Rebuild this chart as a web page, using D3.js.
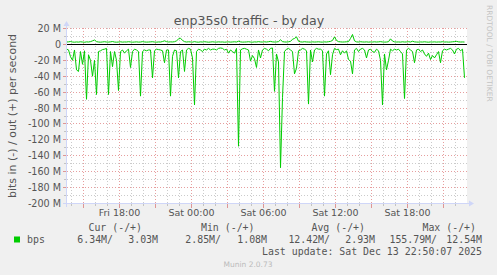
<!DOCTYPE html>
<html>
<head>
<meta charset="utf-8">
<script src="https://cdn.jsdelivr.net/npm/d3@7"></script>
<style>
html,body{margin:0;padding:0;background:#f0f0f0;}
svg{display:block;}
</style>
</head>
<body>
<svg id="chart" width="497" height="275"></svg>
<script>
// ---------------- data ----------------
const title = "enp35s0 traffic - by day";
const yAxisTitle = "bits in (-) / out (+) per second";
const startTime = Date.UTC(2025, 11, 12, 13, 35, 0); // Fri 13:35
const endTime = Date.UTC(2025, 11, 13, 22, 55, 0);
const stepMinutes = 10;

// bits in per second (Mbit/s), drawn below zero
const inMbps = [
  5.8, 6.9, 15.4, 20, 7, 32, 34, 9, 25, 8,
  69, 13, 20, 40, 20, 63, 9, 8, 6.5, 6,
  5, 63, 9, 28, 9, 20, 58, 9, 7, 11,
  8, 6, 29, 9, 6, 7, 9, 65, 9, 7,
  8, 7, 7, 42, 8, 6, 6.5, 7, 8, 23,
  7, 7, 65, 15, 7, 8, 42, 9, 7, 34,
  7, 5, 6, 17, 76, 9, 6, 7, 9, 6,
  7, 5, 7, 6, 6, 7, 5, 4.5, 5, 7,
  6, 11, 7, 9, 11, 5, 128, 7, 5.5, 5,
  6, 7, 21, 14, 18, 29, 7, 17, 7, 5,
  6, 8, 5, 4.5, 59, 12, 22, 155, 67, 9,
  6, 5, 7, 9, 37, 30, 8, 7, 5, 6,
  8, 75, 7, 22, 7, 5, 6, 6, 8, 65,
  12, 8, 38, 13, 5, 6.5, 6, 13, 8, 11,
  8, 19, 21, 37, 7, 5, 9, 6, 5, 7,
  17, 7, 6, 9, 10, 6, 8, 20, 76, 12,
  32, 20, 6, 8, 6, 7, 6, 9, 12, 68,
  7, 5, 7, 9, 23, 7, 6, 9, 7, 12,
  15, 11, 19, 14, 17, 13, 9, 23, 8, 6,
  7, 6, 5, 7, 12, 6, 5, 8, 6, 42
];
// bits out per second (Mbit/s), drawn above zero
const outMbps = [
  3, 3.2, 3.6, 3, 2.8, 3.1, 2.9, 3.3, 3, 2.7,
  3.2, 3, 3.5, 4.5, 5.5, 3.5, 3, 2.8, 3.1, 3.4,
  3, 2.9, 3.2, 3.6, 3, 2.8, 3, 3.3, 2.9, 3.1,
  3, 3.4, 3.1, 2.8, 3, 3.2, 2.9, 3, 3.5, 3.1,
  2.9, 3, 3.2, 3.4, 3, 2.8, 3.1, 3, 3.6, 4.5,
  3.5, 3, 3.2, 3.1, 3.4, 4.5, 6.8, 7.8, 5, 3.5,
  3, 3.3, 3.1, 2.9, 3.5, 3, 2.8, 3.2, 3, 3.4,
  3.1, 2.8, 3, 3.3, 3, 2.9, 3.2, 3, 3.1, 2.8,
  3, 3.2, 2.9, 3.1, 3.3, 3, 4, 3.2, 2.9, 3,
  3.1, 3.4, 3, 2.8, 3.2, 3, 3.5, 3.1, 3, 3.3,
  3, 3.4, 3.8, 3.2, 3, 3.1, 3.5, 5.8, 3.5, 3.1,
  3, 3.3, 3.8, 6.5, 7.5, 9.5, 4, 3.2, 3, 3.4,
  3.1, 3, 2.9, 3.2, 3, 3.1, 3.3, 3, 2.9, 3.2,
  3, 3.4, 3.8, 5, 9.5, 5, 3.5, 3.2, 3, 3.1,
  3.3, 3.5, 7.5, 12.5, 4.5, 3.2, 3, 3.4, 3.1, 3,
  3.2, 2.9, 3.1, 3, 3.3, 3, 3.2, 3.5, 3.1, 2.9,
  3, 3.4, 7, 4.2, 3.2, 3, 3.1, 2.9, 3.3, 3,
  3.1, 3.4, 3, 4, 3.2, 3, 2.9, 3.1, 3, 3.3,
  3, 2.8, 3.1, 3, 3.2, 2.9, 3.1, 3, 3.4, 3,
  3.1, 2.9, 3, 3.3, 3.5, 3.8, 3.2, 3, 3.1, 3
];

const yTicks = [20, 0, -20, -40, -60, -80, -100, -120, -140, -160, -180, -200];
const legendLabel = "bps";
const legendHeaders = ["Cur (-/+)", "Min (-/+)", "Avg (-/+)", "Max (-/+)"];
const legendIn = ["6.34M/", "2.85M/", "12.42M/", "155.79M/"];
const legendOut = ["3.03M", "1.08M", "2.93M", "12.54M"];
const lastUpdate = "Last update: Sat Dec 13 22:50:07 2025";
const footer = "Munin 2.0.73";
const watermark = "RRDTOOL / TOBI OETIKER";

// ---------------- drawing ----------------
(function () {
const svg = d3.select("#chart");
const FONT = "'DejaVu Sans', Verdana, sans-serif";
const MONO = "'DejaVu Sans Mono', monospace";
const TXT = "#555";
const GREEN = "#00cc00";

const pLeft = 66.5, pRight = 466.5, pTop = 28.5, pBottom = 203.5;
const x = d3.scaleUtc().domain([startTime, endTime]).range([pLeft, pRight]);
const y = d3.scaleLinear().domain([-200, 20]).range([pBottom, pTop]);
const crispY = v => Math.round(y(v) - 0.5) + 0.5;

svg.append("rect").attr("width", 497).attr("height", 275).attr("fill", "#f0f0f0");
svg.append("rect").attr("x", 67).attr("y", 28).attr("width", 400).attr("height", 176).attr("fill", "#ffffff");

const grid = svg.append("g");
const minorCol = "rgba(140,140,140,0.45)";
const majorCol = "rgba(200,40,40,0.45)";

// vertical grid
const hours = d3.utcHour.range(new Date(startTime), new Date(endTime));
hours.forEach(h => {
  const major = h.getUTCHours() % 3 === 0;
  const xx = x(h);
  grid.append("line").attr("x1", xx).attr("x2", xx).attr("y1", 28).attr("y2", 204)
    .attr("stroke", major ? majorCol : minorCol).attr("stroke-width", 1)
    .attr("stroke-dasharray", "1,2");
  grid.append("line").attr("x1", xx).attr("x2", xx).attr("y1", 204).attr("y2", major ? 208 : 206)
    .attr("stroke", major ? majorCol : minorCol).attr("stroke-width", 1);
});
// horizontal grid
d3.range(-200, 21, 10).forEach(v => {
  const major = v % 20 === 0;
  const yy = crispY(v);
  grid.append("line").attr("x1", 67).attr("x2", 467).attr("y1", yy).attr("y2", yy)
    .attr("stroke", major ? majorCol : minorCol).attr("stroke-width", 1)
    .attr("stroke-dasharray", "1,2");
  grid.append("line").attr("x1", major ? 63 : 64).attr("x2", 66).attr("y1", yy).attr("y2", yy)
    .attr("stroke", major ? majorCol : minorCol).attr("stroke-width", 1);
});

// series
const tAt = i => startTime + i * stepMinutes * 60000;
const lineGen = d3.line().x(d => x(d[0])).y(d => y(d[1]));
const inPts = inMbps.map((v, i) => [tAt(i), -v]);
const outPts = outMbps.map((v, i) => [tAt(i), v]);
svg.append("path").attr("d", lineGen(inPts)).attr("fill", "none")
  .attr("stroke", GREEN).attr("stroke-width", 1).attr("stroke-linejoin", "round");
svg.append("path").attr("d", lineGen(outPts)).attr("fill", "none")
  .attr("stroke", GREEN).attr("stroke-width", 1).attr("stroke-linejoin", "round");

// zero line
svg.append("line").attr("x1", 67).attr("x2", 467).attr("y1", crispY(0)).attr("y2", crispY(0))
  .attr("stroke", "#000").attr("stroke-width", 1);

// axes
const AX = "#cfd6f8";
svg.append("line").attr("x1", 63).attr("x2", 471).attr("y1", 203.5).attr("y2", 203.5).attr("stroke", AX);
svg.append("line").attr("x1", 66.5).attr("x2", 66.5).attr("y1", 207).attr("y2", 24).attr("stroke", AX);
svg.append("path").attr("d", "M469,200.5 L474,203.5 L469,206.5 Z").attr("fill", AX);
svg.append("path").attr("d", "M63.5,26 L66.5,21 L69.5,26 Z").attr("fill", AX);

// y tick labels
svg.append("g").selectAll("text").data(yTicks).join("text")
  .attr("x", 61).attr("y", d => y(d) + 3.5)
  .attr("text-anchor", "end").attr("font-family", FONT).attr("font-size", 9.6)
  .attr("fill", TXT).text(d => d === 0 ? "0" : `${d} M`);

// x tick labels (every 6 hours)
const fmt = d3.utcFormat("%a %H:%M");
const labelHours = hours.filter(h => h.getUTCHours() % 6 === 0);
svg.append("g").selectAll("text").data(labelHours).join("text")
  .attr("x", d => x(d)).attr("y", 215.5)
  .attr("text-anchor", "middle").attr("font-family", FONT).attr("font-size", 9.5)
  .attr("fill", TXT).text(d => fmt(d));

// title
svg.append("text").attr("x", 249).attr("y", 24.5).attr("text-anchor", "middle")
  .attr("font-family", FONT).attr("font-size", 12.6).attr("fill", TXT).text(title);

// y axis title
svg.append("text").attr("transform", "translate(15.5,116) rotate(-90)")
  .attr("text-anchor", "middle").attr("font-family", FONT).attr("font-size", 11)
  .attr("fill", TXT).text(yAxisTitle);

// watermark
svg.append("text").attr("transform", "translate(486.5,5) rotate(90)")
  .attr("font-family", FONT).attr("font-size", 7.5).attr("fill", "#c4c4c4").text(watermark);

// legend
const headerRight = [142, 254.5, 365, 476];
const inRight = [113, 221, 330, 437];
const outRight = [158, 267, 375, 482];
const lg = svg.append("g").attr("font-family", MONO).attr("font-size", 9.9).attr("fill", TXT);
lg.selectAll("text.h").data(legendHeaders).join("text").attr("class", "h")
  .attr("x", (d, i) => headerRight[i]).attr("y", 231.3).attr("text-anchor", "end").text(d => d);
lg.selectAll("text.i").data(legendIn).join("text").attr("class", "i")
  .attr("x", (d, i) => inRight[i]).attr("y", 243).attr("text-anchor", "end").text(d => d);
lg.selectAll("text.o").data(legendOut).join("text").attr("class", "o")
  .attr("x", (d, i) => outRight[i]).attr("y", 243).attr("text-anchor", "end").text(d => d);
lg.append("text").attr("x", 27).attr("y", 243).text(legendLabel);
lg.append("text").attr("x", 482).attr("y", 254.6).attr("text-anchor", "end").text(lastUpdate);
svg.append("rect").attr("x", 14).attr("y", 236.5).attr("width", 6).attr("height", 6).attr("fill", GREEN);

svg.append("text").attr("x", 248).attr("y", 267).attr("text-anchor", "middle")
  .attr("font-family", FONT).attr("font-size", 7.5).attr("fill", "#bbbbbb").text(footer);
})();
</script>
</body>
</html>
